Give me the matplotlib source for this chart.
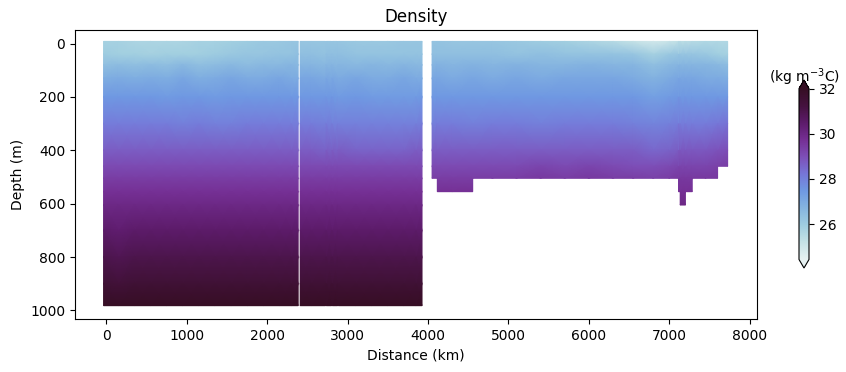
import numpy as np
import matplotlib
matplotlib.use('Agg')
import matplotlib.pyplot as plt
from matplotlib.colors import LinearSegmentedColormap, Normalize
from matplotlib.cm import ScalarMappable

nan = float('nan')

# ==============================================================================
# Section data
distance = [-35, 150, 350, 550, 750, 950, 1150, 1350, 1550, 1750, 1950, 2150, 2300, 2385,
            2410, 2550, 2726, 2734, 2801, 2809, 2876, 2884, 3100, 3300, 3500, 3700, 3850, 3925,
            4050, 4115, 4300, 4555, 4800, 5100, 5400, 5700, 6000, 6300, 6550, 6800, 7000,
            7114, 7135, 7200, 7285, 7450, 7600, 7725]

# deepest sample between one station and the next, nan where there is no data
bottom = [982, 982, 982, 982, 982, 982, 982, 982, 982, 982, 982, 982, 982, nan,
          982, 982, nan, 982, nan, 982, nan, 982, 982, 982, 982, 982, 982, nan,
          505, 555, 555, 505, 505, 505, 505, 505, 505, 505, 505, 505, 505,
          555, 605, 555, 505, 505, 460]

depth = [-8, 40, 80, 130, 200, 300, 400, 460, 505, 555, 605, 700, 800, 900, 982]

rho_0 = [25.8, 25.8, 25.7, 25.7, 25.7, 25.7, 25.8, 25.8, 25.9, 26.0, 26.1, 26.1, 26.2, 26.2,
         26.2, 26.2, 26.2, 26.2, 26.2, 26.2, 26.2, 26.2, 26.1, 26.1, 26.1, 26.2, 26.2, 26.2,
         26.3, 26.3, 26.2, 26.2, 26.2, 26.1, 26.0, 25.9, 25.7, 25.5, 25.2, 24.9, 25.1,
         25.3, 25.4, 25.4, 25.5, 25.6, 25.6, 25.6]
rho_40 = [26.0, 25.9, 25.9, 25.8, 25.9, 25.9, 25.9, 26.0, 26.1, 26.2, 26.2, 26.3, 26.3, 26.4,
          26.4, 26.4, 26.3, 26.4, 26.4, 26.4, 26.4, 26.4, 26.3, 26.3, 26.3, 26.3, 26.3, 26.3,
          26.4, 26.4, 26.4, 26.4, 26.4, 26.3, 26.4, 26.3, 26.3, 26.3, 26.2, 25.8, 26.1,
          26.2, 26.2, 26.2, 26.2, 26.1, 25.9, 25.8]
rho_80 = [26.4, 26.5, 26.4, 26.5, 26.4, 26.6, 26.4, 26.5, 26.6, 26.5, 26.6, 26.6, 26.7, 26.6,
          26.7, 26.7, 26.6, 26.7, 26.7, 26.7, 26.6, 26.7, 26.6, 26.7, 26.6, 26.7, 26.6, 26.6,
          26.7, 26.8, 26.7, 26.8, 26.7, 26.8, 26.7, 26.7, 26.8, 26.7, 26.7, 26.4, 26.6,
          26.7, 26.7, 26.7, 26.7, 26.7, 26.6, 26.5]
rho_130 = [26.9, 27.0, 26.9, 27.0, 26.9, 27.1, 26.9, 27.0, 27.1, 27.0, 27.0, 27.1, 27.0, 27.0,
           27.1, 27.1, 27.0, 27.1, 27.0, 27.1, 27.0, 27.0, 27.1, 27.0, 27.0, 27.1, 27.0, 27.0,
           27.1, 27.1, 27.0, 27.1, 27.0, 27.1, 27.0, 27.1, 27.1, 27.1, 27.0, 26.8, 27.0,
           27.1, 27.1, 27.1, 27.1, 27.0, 27.0, 26.9]
rho_200 = [27.5, 27.5, 27.5, 27.5, 27.4, 27.5, 27.5, 27.4, 27.5, 27.5, 27.5, 27.5, 27.5, 27.5,
           27.5, 27.5, 27.5, 27.5, 27.5, 27.5, 27.4, 27.4, 27.5, 27.4, 27.4, 27.4, 27.4, 27.5,
           27.5, 27.5, 27.5, 27.5, 27.5, 27.5, 27.5, 27.5, 27.5, 27.5, 27.5, 27.3, 27.4,
           27.5, 27.5, 27.5, 27.5, 27.5, 27.5, 27.5]
rho_300 = [28.1, 28.1, 28.1, 28.1, 28.1, 28.0, 28.1, 28.0, 28.0, 28.1, 28.1, 28.1, 28.1, 28.1,
           28.1, 28.1, 28.0, 28.1, 28.0, 28.0, 28.0, 28.0, 28.0, 28.0, 28.0, 28.0, 28.0, 28.1,
           28.0, 28.1, 28.1, 28.0, 28.1, 28.1, 28.0, 28.1, 28.1, 28.1, 28.0, 27.9, 28.0,
           28.1, 28.1, 28.1, 28.1, 28.1, 28.2, 28.3]
rho_400 = [28.7, 28.7, 28.7, 28.7, 28.7, 28.7, 28.7, 28.7, 28.7, 28.7, 28.7, 28.7, 28.7, 28.7,
           28.7, 28.7, 28.6, 28.7, 28.6, 28.7, 28.6, 28.7, 28.6, 28.6, 28.6, 28.6, 28.7, 28.7,
           28.7, 28.7, 28.7, 28.7, 28.7, 28.7, 28.7, 28.7, 28.7, 28.7, 28.7, 28.5, 28.6,
           28.7, 28.8, 28.8, 28.8, 28.8, 28.9, 29.0]
rho_460 = [29.1, 29.1, 29.1, 29.1, 29.1, 29.1, 29.1, 29.1, 29.1, 29.1, 29.1, 29.1, 29.1, 29.1,
           29.1, 29.1, 29.1, 29.1, 29.1, 29.1, 29.1, 29.1, 29.1, 29.1, 29.1, 29.1, 29.1, 29.1,
           29.1, 29.1, 29.1, 29.1, 29.1, 29.1, 29.2, 29.1, 29.2, 29.1, 29.0, 29.0, 29.1,
           29.2, 29.2, 29.2, 29.2, 29.2, 29.3, 29.4]
rho_505 = [29.4, 29.4, 29.4, 29.4, 29.4, 29.4, 29.4, 29.4, 29.4, 29.4, 29.4, 29.4, 29.4, 29.4,
           29.4, 29.4, 29.4, 29.4, 29.4, 29.4, 29.4, 29.4, 29.4, 29.4, 29.4, 29.4, 29.4, 29.4,
           29.4, 29.4, 29.4, 29.4, 29.4, 29.4, 29.5, 29.4, 29.5, 29.4, 29.4, 29.3, 29.4,
           29.5, 29.5, 29.5, 29.5, 29.5, 29.5, nan]
rho_555 = [29.7, 29.7, 29.7, 29.7, 29.7, 29.7, 29.7, 29.7, 29.7, 29.7, 29.7, 29.7, 29.7, 29.7,
           29.7, 29.7, 29.7, 29.7, 29.7, 29.7, 29.7, 29.7, 29.7, 29.7, 29.7, 29.7, 29.7, 29.7,
           nan, 29.7, 29.7, 29.7, nan, nan, nan, nan, nan, nan, nan, nan, nan,
           29.7, 29.7, 29.7, 29.7, nan, nan, nan]
rho_605 = [30.0, 30.0, 30.0, 30.0, 30.0, 30.0, 30.0, 30.0, 30.0, 30.0, 30.0, 30.0, 30.0, 30.0,
           30.0, 30.0, 30.0, 30.0, 30.0, 30.0, 30.0, 30.0, 30.0, 30.0, 30.0, 30.0, 30.0, 30.0,
           nan, nan, nan, nan, nan, nan, nan, nan, nan, nan, nan, nan, nan,
           nan, 30.0, 30.0, nan, nan, nan, nan]
rho_700 = [30.5, 30.4, 30.5, 30.5, 30.5, 30.5, 30.5, 30.5, 30.5, 30.5, 30.5, 30.5, 30.5, 30.5,
           30.5, 30.5, 30.5, 30.5, 30.5, 30.5, 30.5, 30.5, 30.5, 30.5, 30.5, 30.5, 30.5, 30.5] + [nan] * 20
rho_800 = [31.0, 30.9, 31.0, 31.0, 31.0, 31.0, 31.0, 31.0, 31.0, 31.0, 31.0, 31.0, 31.0, 31.0,
           31.0, 31.0, 31.0, 31.0, 31.0, 31.0, 31.0, 31.0, 31.0, 31.0, 31.0, 31.0, 31.0, 31.0] + [nan] * 20
rho_900 = [31.5, 31.4, 31.5, 31.5, 31.5, 31.5, 31.5, 31.5, 31.5, 31.5, 31.5, 31.5, 31.5, 31.5,
           31.5, 31.5, 31.5, 31.5, 31.5, 31.5, 31.5, 31.5, 31.5, 31.5, 31.5, 31.5, 31.5, 31.5] + [nan] * 20
rho_982 = [32.0, 32.0, 32.0, 32.0, 32.0, 32.0, 32.0, 32.0, 32.0, 32.0, 32.0, 32.0, 32.0, 32.0,
           32.0, 32.0, 32.0, 32.0, 32.0, 32.0, 32.0, 32.0, 32.0, 32.0, 32.0, 32.0, 32.0, 32.0] + [nan] * 20

rho = np.array([rho_0, rho_40, rho_80, rho_130, rho_200, rho_300, rho_400, rho_460, rho_505,
                rho_555, rho_605, rho_700, rho_800, rho_900, rho_982])
distance = np.array(distance)
depth = np.array(depth)

xticks = [0, 1000, 2000, 3000, 4000, 5000, 6000, 7000, 8000]
yticks = [0, 200, 400, 600, 800, 1000]
cbar_ticks = [26, 28, 30, 32]
# ==============================================================================
# dense-like colormap, sampled from the colour bar
cmap_colors = ['#e6f1f1', '#c4e2e6', '#9fcde0', '#85b5e0', '#6f99e2', '#7676d8',
               '#7d4fb8', '#752f94', '#5d1b6b', '#45123f', '#360e24']
dense = LinearSegmentedColormap.from_list('dense_like', cmap_colors)
norm = Normalize(vmin=24.44, vmax=32)

W, H = 846, 372
fig = plt.figure(figsize=(W/100, H/100), dpi=100)
ax = fig.add_axes([75/W, 1 - 319.3/H, 682/W, 289/H])

for i, bot in enumerate(bottom):
    if np.isnan(bot):
        continue
    keep = depth <= bot
    X, Y = np.meshgrid(distance[i:i+2], depth[keep])
    ax.pcolormesh(X, Y, rho[keep][:, i:i+2], cmap=dense, norm=norm,
                  shading='gouraud', rasterized=True)

ax.set_xlim(-390, 8090)
ax.set_ylim(1033, -49.5)
ax.set_xticks(xticks)
ax.set_yticks(yticks)
ax.set_xlabel('Distance (km)')
ax.set_ylabel('Depth (m)')
ax.set_title('Density')

cax = fig.add_axes([799/W, 1 - 268/H, 10/W, 188/H])
cbar = fig.colorbar(ScalarMappable(norm=norm, cmap=dense), cax=cax, extend='both')
cbar.set_ticks(cbar_ticks)
cax.set_title('(kg m$^{-3}$C)', fontsize=10, y=1.0, pad=5)

fig.savefig('out.png', dpi=100)
